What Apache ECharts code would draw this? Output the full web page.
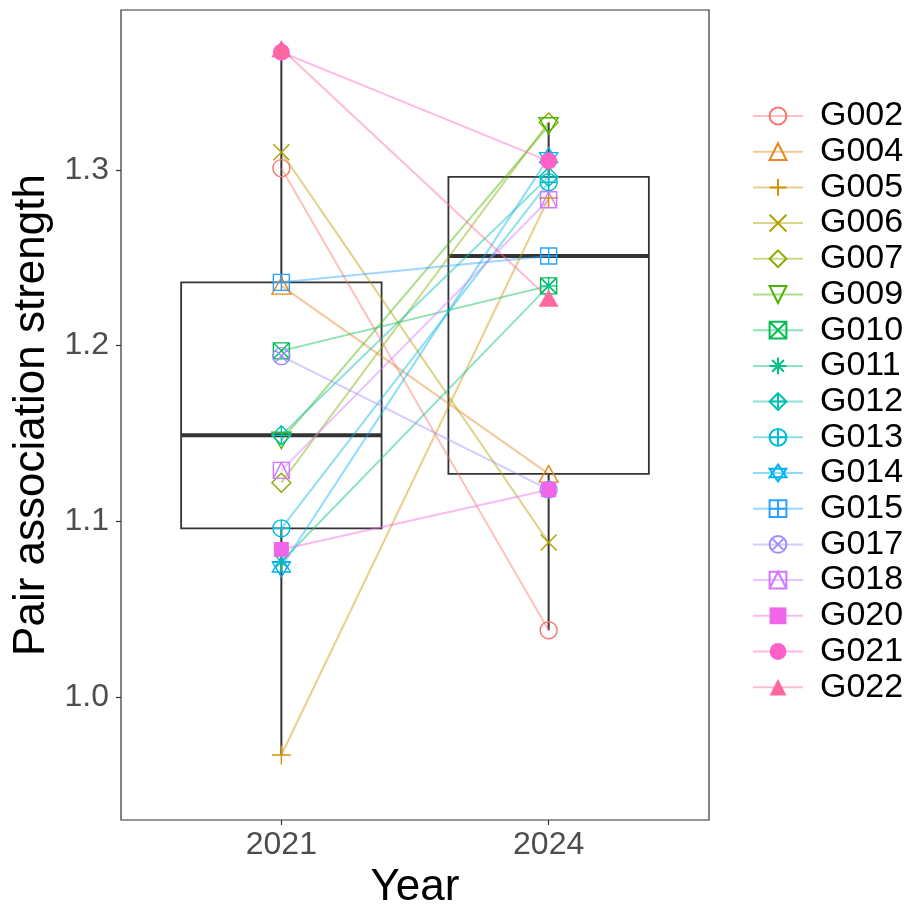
<!DOCTYPE html>
<html>
<head>
<meta charset="utf-8">
<script src="https://cdn.jsdelivr.net/npm/echarts@6/dist/echarts.min.js"></script>
<style>
  html, body { margin: 0; padding: 0; background: #fff; }
  #main { width: 907px; height: 907px; }
</style>
</head>
<body>
<div id="main"></div>
<script>
// groups and their pair association strength per year
let groups = ['G002', 'G004', 'G005', 'G006', 'G007', 'G009', 'G010', 'G011', 'G012',
  'G013', 'G014', 'G015', 'G017', 'G018', 'G020', 'G021', 'G022'];
let years = ['2021', '2024'];
let v2021 = [1.301, 1.234, 0.967, 1.310, 1.122, 1.146, 1.197, 1.077, 1.149,
  1.096, 1.074, 1.236, 1.194, 1.129, 1.084, 1.367, 1.369];
let v2024 = [1.038, 1.127, 1.284, 1.088, 1.327, 1.325, 1.234, 1.234, 1.296,
  1.293, 1.307, 1.251, 1.118, 1.283, 1.118, 1.305, 1.227];
let yTicks = [1.0, 1.1, 1.2, 1.3];

// ggplot hue palette, 17 levels
let colors = ['#F8766D', '#E7851E', '#D09400', '#B2A100', '#89AC00', '#45B500', '#00BC51',
  '#00C087', '#00C0B2', '#00BCD6', '#00B3F2', '#29A3FF', '#9C8DFF', '#D277FF',
  '#F166E8', '#FF61C7', '#FF689E'];

// ggplot shapes 1..17
let ring = 'M2,10 A8,8 0 1,1 18,10 A8,8 0 1,1 2,10 Z';
let shapes = [
  'path://' + ring,
  'path://M10,2 L19,17.6 L1,17.6 Z',
  'path://M10,0 L10,20 M0,10 L20,10',
  'path://M2,2 L18,18 M18,2 L2,18',
  'path://M10,0 L20,10 L10,20 L0,10 Z',
  'path://M1,2.4 L19,2.4 L10,18 Z',
  'path://M2,2 L18,2 L18,18 L2,18 Z M2,2 L18,18 M18,2 L2,18',
  'path://M10,0 L10,20 M0,10 L20,10 M3,3 L17,17 M17,3 L3,17',
  'path://M10,0 L20,10 L10,20 L0,10 Z M10,0 L10,20 M0,10 L20,10',
  'path://' + ring + ' M10,2 L10,18 M2,10 L18,10',
  'path://M10,0 L19,15 L1,15 Z M1,5 L19,5 L10,20 Z',
  'path://M2,2 L18,2 L18,18 L2,18 Z M10,2 L10,18 M2,10 L18,10',
  'path://' + ring + ' M4.3,4.3 L15.7,15.7 M15.7,4.3 L4.3,15.7',
  'path://M2,2 L18,2 L18,18 L2,18 Z M2,18 L10,2 L18,18',
  'rect',
  'circle',
  'path://M10,1 L20,18.3 L0,18.3 Z'
];
let filled = [false, false, false, false, false, false, false, false, false,
  false, false, false, false, false, true, true, true];
let sizes = [17, 19, 19, 16, 19, 19, 16, 18, 19, 17, 20, 16, 17, 16, 15, 17, 20];

function quantile(arr, p) {
  let s = arr.slice().sort((a, b) => a - b);
  let h = (s.length - 1) * p;
  let lo = Math.floor(h);
  return s[lo] + (h - lo) * ((s[lo + 1] !== undefined ? s[lo + 1] : s[lo]) - s[lo]);
}
function boxStats(arr, x) {
  let q1 = quantile(arr, 0.25), q3 = quantile(arr, 0.75), iqr = q3 - q1;
  let inside = arr.filter(v => v >= q1 - 1.5 * iqr && v <= q3 + 1.5 * iqr);
  return [x, Math.min(...inside), q1, quantile(arr, 0.5), q3, Math.max(...inside)];
}
let boxData = [boxStats(v2021, 1), boxStats(v2024, 2)];

function renderBox(params, api) {
  let x = api.value(0);
  let lo = api.coord([x, api.value(1)]);
  let q1 = api.coord([x, api.value(2)]);
  let md = api.coord([x, api.value(3)]);
  let q3 = api.coord([x, api.value(4)]);
  let hi = api.coord([x, api.value(5)]);
  let half = api.size([0.375, 0])[0];
  let c = '#333333';
  return {
    type: 'group',
    children: [
      { type: 'line', shape: { x1: lo[0], y1: lo[1], x2: q1[0], y2: q1[1] }, style: { stroke: c, lineWidth: 2 } },
      { type: 'line', shape: { x1: q3[0], y1: q3[1], x2: hi[0], y2: hi[1] }, style: { stroke: c, lineWidth: 2 } },
      { type: 'rect', shape: { x: q3[0] - half, y: q3[1], width: half * 2, height: q1[1] - q3[1] },
        style: { fill: 'none', stroke: c, lineWidth: 1.8 } },
      { type: 'line', shape: { x1: md[0] - half, y1: md[1], x2: md[0] + half, y2: md[1] }, style: { stroke: c, lineWidth: 4 } }
    ]
  };
}

let series = [{
  type: 'custom',
  renderItem: renderBox,
  data: boxData,
  z: 1,
  silent: true
}];
groups.forEach((g, i) => {
  series.push({
    name: g,
    type: 'line',
    data: [[1, v2021[i]], [2, v2024[i]]],
    symbol: shapes[i],
    symbolSize: sizes[i],
    symbolKeepAspect: true,
    z: 3,
    lineStyle: { color: colors[i], width: 2, opacity: 0.45 },
    itemStyle: {
      color: filled[i] ? colors[i] : 'rgba(0,0,0,0)',
      borderColor: colors[i],
      borderWidth: filled[i] ? 0 : 1.4
    },
    emphasis: { disabled: true },
    animation: false
  });
});

let chart = echarts.init(document.getElementById('main'));
chart.setOption({
  animation: false,
  grid: {
    left: 121, right: 198, top: 10, bottom: 87, outerBoundsMode: 'none', containLabel: false,
    show: true, borderColor: '#333333', borderWidth: 1.2
  },
  legend: {
    orient: 'vertical',
    left: 752,
    top: 99,
    padding: 0,
    itemWidth: 50,
    itemHeight: 21,
    itemGap: 1.7,
    data: groups,
    textStyle: { fontSize: 34, lineHeight: 34, color: '#000', fontFamily: 'Liberation Sans', padding: [0, 0, 0, 12] }
  },
  xAxis: {
    type: 'value',
    min: 0.4,
    max: 2.6,
    name: 'Year',
    nameLocation: 'middle',
    nameGap: 43,
    nameTextStyle: { fontSize: 44, color: '#000', fontFamily: 'Liberation Sans' },
    splitLine: { show: false },
    axisLine: { show: false },
    axisTick: { show: true, length: 5, lineStyle: { color: '#333333', width: 1.2 }, customValues: [1, 2] },
    axisLabel: {
      customValues: [1, 2],
      formatter: v => years[Math.round(v) - 1],
      fontSize: 32, color: '#4D4D4D', margin: 9, fontFamily: 'Liberation Sans'
    }
  },
  yAxis: {
    type: 'value',
    min: 0.93,
    max: 1.391,
    name: 'Pair association strength',
    nameLocation: 'middle',
    nameGap: 67,
    nameTextStyle: { fontSize: 44, color: '#000', fontFamily: 'Liberation Sans' },
    splitLine: { show: false },
    axisLine: { show: false },
    axisTick: { show: true, length: 5, lineStyle: { color: '#333333', width: 1.2 }, customValues: yTicks },
    axisLabel: {
      customValues: yTicks,
      formatter: v => v.toFixed(1),
      fontSize: 32, color: '#4D4D4D', margin: 12, fontFamily: 'Liberation Sans'
    }
  },
  series: series
});
</script>
</body>
</html>
